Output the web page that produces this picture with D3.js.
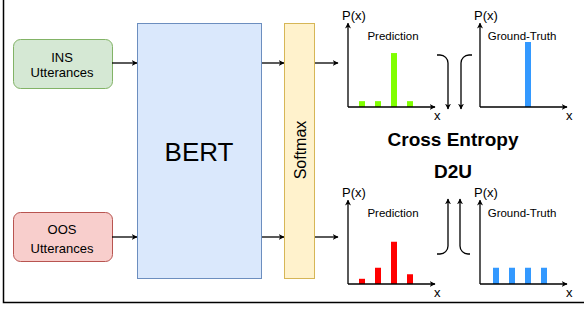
<!DOCTYPE html>
<html>
<head>
<meta charset="utf-8">
<script src="https://cdn.jsdelivr.net/npm/d3@7"></script>
<style>
  body { margin: 0; background: #fff; }
  svg text { font-family: "Liberation Sans", Arial, sans-serif; fill: #000; }
</style>
</head>
<body>
<div class="diagram"></div>
<script>
// data
const inputNames = ['INS', 'OOS']
const barIndex = [1, 2, 3, 4]
const insPrediction = [0.09, 0.09, 0.83, 0.09]
const insTruth = [0, 0, 1, 0]
const oosPrediction = [0.08, 0.25, 0.65, 0.15]
const oosTruth = [0.25, 0.25, 0.25, 0.25]
const lossNames = ['Cross Entropy', 'D2U']

const width = 584, height = 309

const svg = d3.select('.diagram')
    .append('svg')
    .attr('width', width)
    .attr('height', height)

svg.append('rect').attr('width', width).attr('height', height).attr('fill', '#fff')

svg.append('defs').append('marker')
    .attr('id', 'arrow')
    .attr('viewBox', '0 0 10 10')
    .attr('refX', 9).attr('refY', 5)
    .attr('markerWidth', 6).attr('markerHeight', 6)
    .attr('markerUnits', 'userSpaceOnUse')
    .attr('orient', 'auto')
    .append('path')
    .attr('d', 'M0,0 L10,5 L0,10 L3,5 z')
    .attr('fill', '#000')

// frame (left + bottom edges only)
svg.append('path')
    .attr('d', 'M3.5,0 V302.5 H584')
    .attr('fill', 'none').attr('stroke', '#000').attr('stroke-width', 1.5)

const arrow = (d) => svg.append('path')
    .attr('d', d)
    .attr('fill', 'none')
    .attr('stroke', '#000')
    .attr('stroke-width', 1.3)
    .attr('marker-end', 'url(#arrow)')

// input boxes
const inputs = [
    { name: inputNames[0], y: 39, fill: '#d5e8d4', stroke: '#82b366', lines: [57, 72], arrowY: 63 },
    { name: inputNames[1], y: 212, fill: '#f8cecc', stroke: '#b85450', lines: [229, 248], arrowY: 237 }
]

inputs.forEach(d => {
    svg.append('rect')
        .attr('x', 13.5).attr('y', d.y + 0.5)
        .attr('width', 99).attr('height', 49)
        .attr('rx', 7)
        .attr('fill', d.fill).attr('stroke', d.stroke)
    ;[d.name, 'Utterances'].forEach((t, i) => {
        svg.append('text')
            .attr('x', 62).attr('y', d.lines[i])
            .attr('dy', '0.35em')
            .attr('text-anchor', 'middle')
            .attr('font-size', 13)
            .text(t)
    })
    arrow(`M112,${d.arrowY} H137`)
    arrow(`M262,${d.arrowY} H284`)
    arrow(`M315,${d.arrowY} H338`)
})

// BERT
svg.append('rect')
    .attr('x', 137.5).attr('y', 23.5).attr('width', 124).attr('height', 255)
    .attr('fill', '#dae8fc').attr('stroke', '#6c8ebf')
svg.append('text')
    .attr('x', 199).attr('y', 152)
    .attr('dy', '0.35em')
    .attr('text-anchor', 'middle')
    .attr('font-size', 26)
    .text('BERT')

// Softmax
svg.append('rect')
    .attr('x', 284.5).attr('y', 23.5).attr('width', 30).attr('height', 255)
    .attr('fill', '#fff2cc').attr('stroke', '#d6b656')
svg.append('text')
    .attr('transform', 'translate(300,150) rotate(-90)')
    .attr('dy', '0.35em')
    .attr('text-anchor', 'middle')
    .attr('font-size', 16)
    .text('Softmax')

// small bar charts
const charts = [
    { ox: 348, oy: 107, title: 'Prediction', values: insPrediction, color: '#80ff00', offset: 6 },
    { ox: 480, oy: 107, title: 'Ground-Truth', values: insTruth, color: '#3399ff', offset: 8 },
    { ox: 348, oy: 284, title: 'Prediction', values: oosPrediction, color: '#ff0000', offset: 6 },
    { ox: 480, oy: 284, title: 'Ground-Truth', values: oosTruth, color: '#3399ff', offset: 8 }
]

charts.forEach(c => {
    const g = svg.append('g')
    const x = d3.scaleBand()
        .domain(barIndex)
        .range([c.ox + c.offset, c.ox + c.offset + 64])
        .paddingInner(0.625)
        .paddingOuter(0.3125)
    const y = d3.scaleLinear()
        .domain([0, 1])
        .range([c.oy, c.oy - 65])

    g.selectAll('rect')
        .data(barIndex.map((k, i) => ({ k, v: c.values[i] })).filter(d => d.v > 0))
        .join('rect')
        .attr('x', d => x(d.k))
        .attr('y', d => y(d.v))
        .attr('width', x.bandwidth())
        .attr('height', d => y(0) - y(d.v))
        .attr('fill', c.color)

    arrow(`M${c.ox},${y(0)} V${y(1.29)}`)
    arrow(`M${c.ox},${y(0)} H${c.ox + 87}`)

    g.append('text')
        .attr('x', c.ox - 6).attr('y', y(1.29) - 3)
        .attr('font-size', 13)
        .text('P(x)')
    g.append('text')
        .attr('x', c.ox + 86).attr('y', y(0) + 13)
        .attr('font-size', 13)
        .text('x')
    g.append('text')
        .attr('x', c.ox + (c.title === 'Prediction' ? 45 : 42))
        .attr('y', y(1.1))
        .attr('dy', '0.35em')
        .attr('text-anchor', 'middle')
        .attr('font-size', 11.5)
        .text(c.title)
})

// loss arrows
arrow('M437,55 H440 A8,8 0 0 1 448,63 V109')
arrow('M472,55 H469 A8,8 0 0 0 461,63 V109')
arrow('M437,254 H440 A8,8 0 0 0 448,246 V199')
arrow('M470,254 H468 A8,8 0 0 1 460,246 V199')

svg.selectAll('.loss')
    .data(lossNames)
    .join('text')
    .attr('class', 'loss')
    .attr('x', 453)
    .attr('y', (d, i) => i === 0 ? 139 : 171)
    .attr('dy', '0.35em')
    .attr('text-anchor', 'middle')
    .attr('font-size', 19)
    .attr('font-weight', 'bold')
    .text(d => d)
</script>
</body>
</html>
